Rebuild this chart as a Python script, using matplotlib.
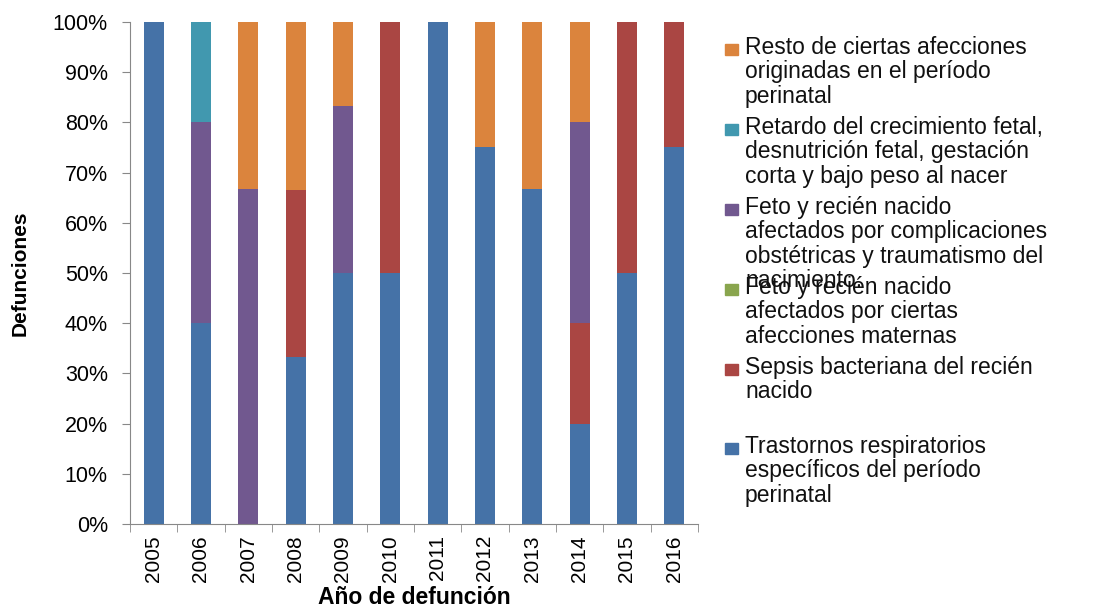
import matplotlib
matplotlib.use("Agg")
import matplotlib.pyplot as plt
from matplotlib.patches import Rectangle
from matplotlib.ticker import PercentFormatter, FixedLocator
import numpy as np

plt.rcParams['font.family'] = ['Liberation Sans', 'DejaVu Sans']

years = ['2005', '2006', '2007', '2008', '2009', '2010', '2011', '2012', '2013', '2014', '2015', '2016']

# shares (%) per cause, stacked bottom -> top
trastornos = [100, 40, 0, 33.3, 50, 50, 100, 75, 66.7, 20, 50, 75]
sepsis = [0, 0, 0, 33.3, 0, 50, 0, 0, 0, 20, 50, 25]
feto_maternas = [0, 0, 0, 0, 0, 0, 0, 0, 0, 0, 0, 0]
feto_complic = [0, 40, 66.7, 0, 33.3, 0, 0, 0, 0, 40, 0, 0]
retardo = [0, 20, 0, 0, 0, 0, 0, 0, 0, 0, 0, 0]
resto = [0, 0, 33.3, 33.4, 16.7, 0, 0, 25, 33.3, 20, 0, 0]

series = [
    ("Trastornos respiratorios\nespecíficos del período\nperinatal", trastornos, '#4572A7'),
    ("Sepsis bacteriana del recién\nnacido", sepsis, '#AA4643'),
    ("Feto y recién nacido\nafectados por ciertas\nafecciones maternas", feto_maternas, '#89A54E'),
    ("Feto y recién nacido\nafectados por complicaciones\nobstétricas y traumatismo del\nnacimiento.", feto_complic, '#71588F'),
    ("Retardo del crecimiento fetal,\ndesnutrición fetal, gestación\ncorta y bajo peso al nacer", retardo, '#4198AF'),
    ("Resto de ciertas afecciones\noriginadas en el período\nperinatal", resto, '#DB843D'),
]

fig = plt.figure(figsize=(10.93, 6.07), dpi=100)
W, H = 1093, 607
ax = fig.add_axes([130 / W, (607 - 524) / H, (698 - 130) / W, (524 - 22) / H])

x = np.arange(len(years))
bottom = np.zeros(len(years))
for label, vals, color in series:
    v = np.array(vals, dtype=float)
    ax.bar(x, v, 0.42, bottom=bottom, color=color, edgecolor='none')
    bottom += v

ax.set_xlim(-0.5, len(years) - 0.5)
ax.set_ylim(0, 100)
ax.set_yticks(np.arange(0, 101, 10))
ax.yaxis.set_major_formatter(PercentFormatter(decimals=0))
ax.set_xticks(x)
ax.set_xticklabels(years, rotation=90, fontsize=15)
ax.xaxis.set_minor_locator(FixedLocator(np.arange(-0.5, len(years), 1)))
ax.tick_params(axis='x', which='major', length=0, pad=8)
ax.tick_params(axis='x', which='minor', length=6, color='#888888', direction='out')
ax.tick_params(axis='y', length=6, color='#888888', direction='out', labelsize=15.5, pad=10)
for s in ['top', 'right']:
    ax.spines[s].set_visible(False)
for s in ['left', 'bottom']:
    ax.spines[s].set_color('#888888')

ax.set_ylabel('Defunciones', fontsize=15, fontweight='bold')
ax.yaxis.set_label_coords(-100 / (698 - 130), 0.5)
ax.set_xlabel('Año de defunción', fontsize=16.5, fontweight='bold')
ax.xaxis.set_label_coords(0.5, -(597 - 524) / (524 - 22))
ax.xaxis.label.set_va('center')

# legend drawn manually (top entry = last series)
legend_y = [49, 129, 209, 289, 369, 448]
for (label, vals, color), yy in zip(series[::-1], legend_y):
    fig.patches.append(Rectangle((725 / W, 1 - (yy + 6) / H), 13 / W, 11 / H,
                                 transform=fig.transFigure, color=color, figure=fig))
    fig.text(745 / W, 1 - (yy - 13) / H, label, fontsize=16.5, va='top', ha='left',
             linespacing=1.08, color='#111111')

fig.savefig('out.png', dpi=100)
